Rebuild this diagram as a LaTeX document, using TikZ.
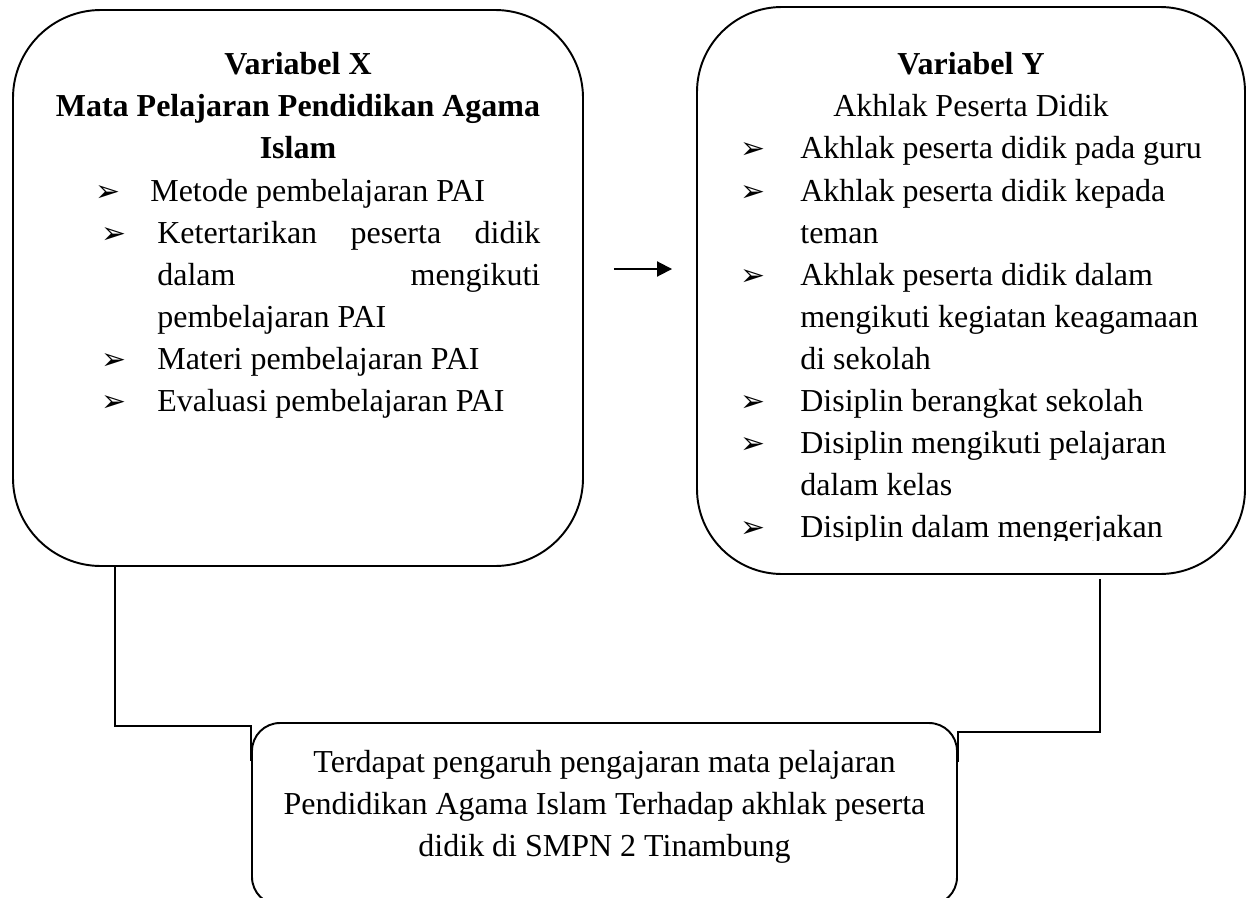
\documentclass[tikz,border=0pt]{standalone}
\usepackage{fontspec}
\setmainfont{Liberation Serif}
\newfontfamily\arrowfont{DejaVu Sans}
\usetikzlibrary{arrows.meta,positioning,calc}

\begin{document}
\begin{tikzpicture}[
    box/.style={draw,line width=1.1pt,inner sep=0pt},
    line/.style={font=\fontsize{18.2}{22}\selectfont,inner sep=0pt,anchor=base west},
    cline/.style={line,anchor=base},
    head/.style={cline,font=\fontsize{18.2}{22}\selectfont\bfseries},
    bul/.style={font=\arrowfont\fontsize{17}{18}\selectfont,inner sep=0pt,anchor=base west},
    link/.style={line width=1.1pt}
]
    % Frame
    \useasboundingbox (0,0) rectangle (25.04,17.94);
    \clip (0,0) rectangle (25.04,17.94);

    % Boxes
    \node[box,rounded corners=1.76cm,minimum width=11.4cm,minimum height=11.12cm] (xbox) at (5.96,12.18) {};
    \node[box,rounded corners=1.7cm,minimum width=10.96cm,minimum height=11.34cm] (ybox) at (19.42,12.13) {};
    \node[box,rounded corners=0.56cm,minimum width=14.1cm,minimum height=3.64cm] (hbox) at (12.09,1.66) {};

    % Variabel X
    \node[head] (xt1) at (5.96,16.44) {Variabel X};
    \node[head] (xt2) at (5.96,15.60) {Mata Pelajaran Pendidikan Agama};
    \node[head] (xt3) at (5.96,14.76) {Islam};
    \node[bul] (xb1) at (1.9,13.92) {➢};
    \node[line] (xl1) at (3.0,13.92) {Metode pembelajaran PAI};
    \node[bul] (xb2) at (2.02,13.08) {➢};
    \node[line] (xl2) at (3.14,13.08) {\makebox[7.66cm][s]{Ketertarikan peserta didik}};
    \node[line] (xl3) at (3.14,12.24) {\makebox[7.66cm][s]{dalam mengikuti}};
    \node[line] (xl4) at (3.14,11.40) {pembelajaran PAI};
    \node[bul] (xb3) at (2.02,10.56) {➢};
    \node[line] (xl5) at (3.14,10.56) {Materi pembelajaran PAI};
    \node[bul] (xb4) at (2.02,9.72) {➢};
    \node[line] (xl6) at (3.14,9.72) {Evaluasi pembelajaran PAI};

    % Variabel Y
    \node[head] (yt1) at (19.42,16.44) {Variabel Y};
    \node[cline] (yt2) at (19.42,15.60) {Akhlak Peserta Didik};
    \foreach \y/\txt [count=\i] in {14.76/Akhlak peserta didik pada guru,
        13.92/Akhlak peserta didik kepada, 13.08/teman,
        12.24/Akhlak peserta didik dalam, 11.40/mengikuti kegiatan keagamaan,
        10.56/di sekolah, 9.72/Disiplin berangkat sekolah,
        8.88/Disiplin mengikuti pelajaran, 8.04/dalam kelas}
        \node[line] (yl\i) at (16.0,\y) {\txt};
    \foreach \y [count=\i] in {14.76,13.92,12.24,9.72,8.88,7.20}
        \node[bul] (yb\i) at (14.8,\y) {➢};
    \begin{scope}
        \clip (13.94,7.14) rectangle (24.9,17.8);
        \node[line] (yl10) at (16.0,7.20) {Disiplin dalam mengerjakan};
    \end{scope}

    % Arrow X -> Y
    \coordinate (ak) at ($(xbox.east)+(0.6,0.38)$);
    \draw[link,-{Triangle[length=0.3cm,width=0.3cm]}] (ak) -- ($(ak -| ybox.west)+(-0.48,0)$);

    % Hipotesis
    \node[cline] (h1) at (12.09,2.50) {Terdapat pengaruh pengajaran mata pelajaran};
    \node[cline] (h2) at (12.09,1.66) {Pendidikan Agama Islam Terhadap akhlak peserta};
    \node[cline] (h3) at (12.09,0.82) {didik di SMPN 2 Tinambung};

    % Connectors
    \coordinate (lk) at (2.3,3.42);
    \coordinate (rk) at (22.0,3.30);
    \draw[link] (xbox.south -| lk) -- (lk) -- (lk -| hbox.west) -- ++(0,-0.7);
    \draw[link] ([yshift=-0.08cm]ybox.south -| rk) -- (rk) -- (rk -| hbox.east) -- ++(0,-0.6);
\end{tikzpicture}
\end{document}
